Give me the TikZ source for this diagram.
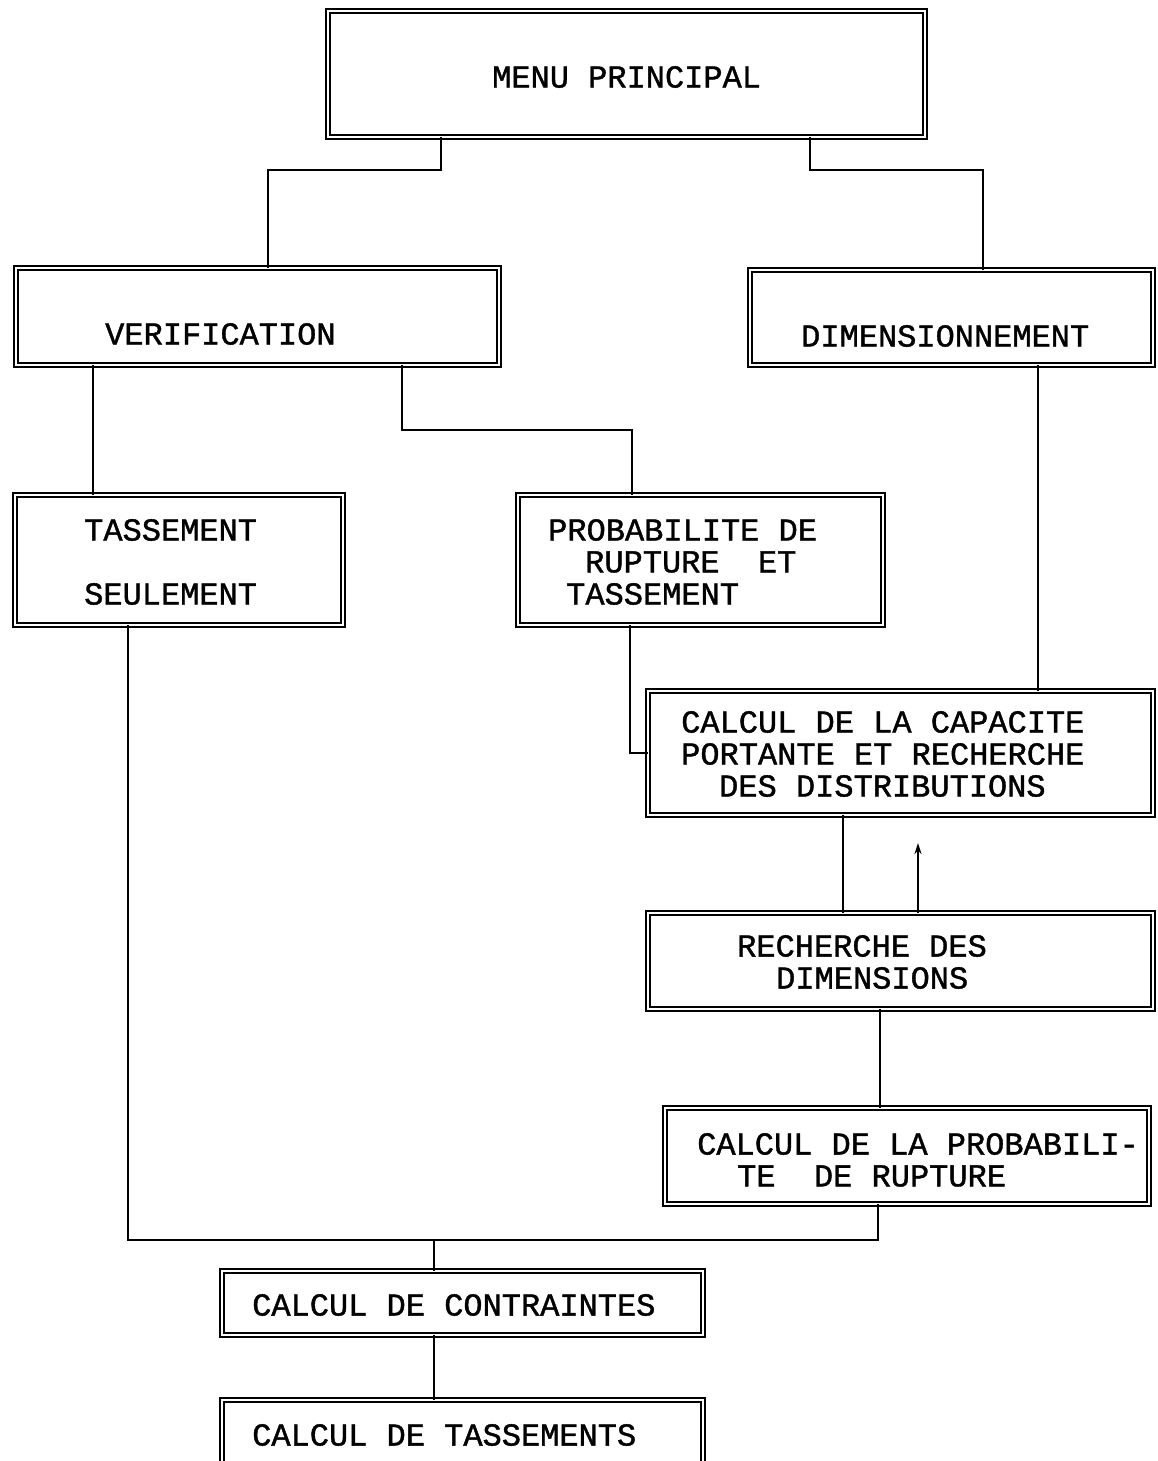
\documentclass[tikz,border=0pt]{standalone}
\usepackage{fontspec}
\newfontfamily\courfont{Liberation Mono}[FakeBold=1.2]
\usetikzlibrary{arrows.meta}
\begin{document}
\begin{tikzpicture}[x=1pt,y=-1pt,
  box/.style={draw, double, double distance=2.6pt, line width=1.7pt, inner sep=0pt, outer sep=0pt, rectangle},
  txt/.style={anchor=west, inner sep=0pt, font=\courfont\fontsize{32}{32}\selectfont},
  conn/.style={line width=1.9pt}]
\useasboundingbox (0,0) rectangle (1157,1461);
\fill[white] (0,0) rectangle (1157,1461);
\begin{scope}
\clip (0,0) rectangle (1157,1461);
% boxes
\node[box, minimum width=597pt, minimum height=126pt] (menu) at (626.5,74) {};
\node[box, minimum width=483pt, minimum height=97pt] (verif) at (257.5,316.5) {};
\node[box, minimum width=403pt, minimum height=95pt] (dim) at (951.5,317.5) {};
\node[box, minimum width=328pt, minimum height=130pt] (tass) at (179,560) {};
\node[box, minimum width=365pt, minimum height=130pt] (prob) at (700.5,560) {};
\node[box, minimum width=505pt, minimum height=124pt] (cap) at (900.5,753) {};
\node[box, minimum width=505pt, minimum height=96pt] (rech) at (900.5,961) {};
\node[box, minimum width=484pt, minimum height=96pt] (cprob) at (907,1156) {};
\node[box, minimum width=481pt, minimum height=64pt] (contr) at (462.5,1303) {};
\node[box, minimum width=481pt, minimum height=77pt] (tassm) at (462.5,1438.5) {};
% texts
\node[txt] (t1) at (492,77) {MENU PRINCIPAL};
\node[txt] (t2) at (105,334) {VERIFICATION};
\node[txt] (t3) at (801,336) {DIMENSIONNEMENT};
\node[txt] (t4a) at (84,530) {TASSEMENT};
\node[txt] (t4b) at (84,594) {SEULEMENT};
\node[txt] (t5a) at (548,530) {PROBABILITE DE};
\node[txt] (t5b) at (585,562) {RUPTURE\ \ ET};
\node[txt] (t5c) at (566,594) {TASSEMENT};
\node[txt] (t6a) at (681,722) {CALCUL DE LA CAPACITE};
\node[txt] (t6b) at (681,754) {PORTANTE ET RECHERCHE};
\node[txt] (t6c) at (719,786) {DES DISTRIBUTIONS};
\node[txt] (t7a) at (737,946) {RECHERCHE DES};
\node[txt] (t7b) at (776,978) {DIMENSIONS};
\node[txt] (t8a) at (697,1144) {CALCUL DE LA PROBABILI-};
\node[txt] (t8b) at (737,1176) {TE\ \ DE RUPTURE};
\node[txt] (t9) at (252,1305) {CALCUL DE CONTRAINTES};
\node[txt] (t10) at (252,1435) {CALCUL DE TASSEMENTS};
% helper coordinates
\coordinate (x441) at (441,0);
\coordinate (x268) at (268,0);
\coordinate (x810) at (810,0);
\coordinate (x983) at (983,0);
\coordinate (x93) at (93,0);
\coordinate (x402) at (402,0);
\coordinate (x632) at (632,0);
\coordinate (x630) at (630,0);
\coordinate (x1038) at (1038,0);
\coordinate (x843) at (843,0);
\coordinate (x918) at (918,0);
\coordinate (x880) at (880,0);
\coordinate (x878) at (878,0);
\coordinate (x128) at (128,0);
\coordinate (x434) at (434,0);
\coordinate (y170) at (0,170);
\coordinate (y430) at (0,430);
\coordinate (y1240) at (0,1240);
\coordinate (arrtip) at (918,843);
% connectors
\draw[conn] (menu.south -| x441) -- (x441 |- y170) -| (verif.north -| x268);
\draw[conn] (menu.south -| x810) -- (x810 |- y170) -| (dim.north -| x983);
\draw[conn] (verif.south -| x93) -- (tass.north -| x93);
\draw[conn] (verif.south -| x402) -- (x402 |- y430) -| (prob.north -| x632);
\draw[conn] (dim.south -| x1038) -- (cap.north -| x1038);
\draw[conn] (prob.south -| x630) |- (cap.west);
\draw[conn] (cap.south -| x843) -- (rech.north -| x843);
\draw[conn, -{Stealth[length=11pt,width=7pt]}] (rech.north -| x918) -- (arrtip);
\draw[conn] (rech.south -| x880) -- (cprob.north -| x880);
\draw[conn] (tass.south -| x128) -- (x128 |- y1240) -- (x878 |- y1240) -- (cprob.south -| x878);
\draw[conn] (x434 |- y1240) -- (contr.north -| x434);
\draw[conn] (contr.south -| x434) -- (tassm.north -| x434);
\end{scope}
\end{tikzpicture}
\end{document}
